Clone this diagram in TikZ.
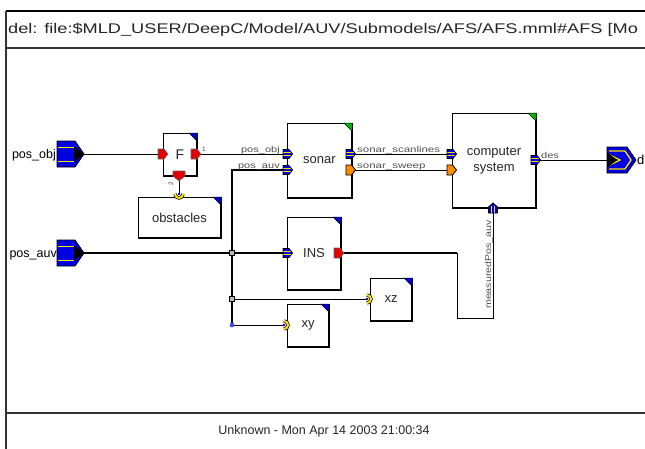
\documentclass[tikz,border=0pt]{standalone}
\usepackage{fontspec}
\setmainfont{Liberation Sans}
\usepackage{graphicx}
\usetikzlibrary{calc}
\definecolor{pblue}{RGB}{0,0,225}
\definecolor{pyellow}{RGB}{255,225,0}
\definecolor{pred}{RGB}{225,0,0}
\definecolor{porange}{RGB}{255,140,0}
\definecolor{pgreen}{RGB}{0,190,0}
\definecolor{lblgray}{RGB}{80,80,80}
\definecolor{dotblue}{RGB}{70,70,255}
\tikzset{
 blockbox/.style={draw, line width=0.8pt, fill=white, inner sep=0pt, outer sep=0pt, font=\fontsize{13}{16}\selectfont, text=black!85, align=center},
 thinw/.style={line width=0.9pt},
 thickw/.style={line width=1.9pt},
 plabel/.style={font=\fontsize{8.5}{9}\selectfont, text=lblgray, inner sep=0pt},
 junc/.style={draw, fill=gray!55, minimum size=5.5pt, inner sep=0pt, line width=0.6pt},
 framew/.style={line width=1.1pt, draw=black!80},
}
\newcommand\blkdeco[2]{%
 \draw[line width=2pt] (#1.north east) -- (#1.south east) -- (#1.south west);
 \filldraw[fill=#2, draw=black, line width=0.5pt] ($(#1.north east)+(-8,0)$) -- (#1.north east) -- ($(#1.north east)+(0,8)$) -- cycle;}
\newcommand\busR[1]{\begin{scope}[shift={(#1)}]
 \fill[pblue] (0,-4.5) -- (6,-4.5) -- (9.5,0) -- (6,4.5) -- (0,4.5) -- cycle;
 \draw[pyellow, line width=0.9pt] (0,-1.6) -- (7.5,-1.6) (0,1.6) -- (7.5,1.6);
 \draw[line width=0.8pt] (0,-4.5) -- (6,-4.5) -- (9.5,0) -- (6,4.5) -- (0,4.5) -- cycle;
 \end{scope}}
\newcommand\oranR[1]{\begin{scope}[shift={(#1)}]
 \filldraw[fill=porange, line width=0.8pt] (0,-5) -- (5.5,-5) -- (9.5,0) -- (5.5,5) -- (0,5) -- cycle;
 \end{scope}}
\newcommand\redR[1]{\begin{scope}[shift={(#1)}]
 \filldraw[fill=pred, draw=black!60, line width=0.6pt] (0,-5) -- (6,-5) -- (10,0) -- (6,5) -- (0,5) -- cycle;
 \end{scope}}
\newcommand\redD[1]{\begin{scope}[shift={(#1)}]
 \filldraw[fill=pred, draw=black!60, line width=0.6pt] (-6,0) -- (6,0) -- (6,5) -- (0,10) -- (-6,5) -- cycle;
 \end{scope}}
\newcommand\yelR[1]{\begin{scope}[shift={(#1)}]
 \draw[line width=3.4pt] (0,-4) arc[start angle=-90,end angle=90,radius=4];
 \draw[pyellow, line width=2pt] (0,-4) arc[start angle=-90,end angle=90,radius=4];
 \fill[pblue] (0,0) circle (1.4);
 \end{scope}}
\newcommand\yelU[1]{\begin{scope}[shift={(#1)}]
 \draw[line width=3.4pt] (-4,0) arc[start angle=180,end angle=0,radius=4];
 \draw[pyellow, line width=2pt] (-4,0) arc[start angle=180,end angle=0,radius=4];
 \fill[pblue] (0,0) circle (1.4);
 \end{scope}}
\newcommand\busU[1]{\begin{scope}[shift={(#1)}]
 \fill[pblue] (-4.5,0) -- (-4.5,-6) -- (0,-10) -- (4.5,-6) -- (4.5,0) -- cycle;
 \draw[pyellow, line width=0.9pt] (-1.6,0) -- (-1.6,-7.5) (1.6,0) -- (1.6,-7.5);
 \draw[line width=0.8pt] (-4.5,0) -- (-4.5,-6) -- (0,-10) -- (4.5,-6) -- (4.5,0) -- cycle;
 \end{scope}}
\newcommand\bigIn[1]{\begin{scope}[shift={(#1)}]
 \filldraw[fill=pblue, line width=0.8pt] (-27,-13) -- (-9,-13) -- (0,0) -- (-9,13) -- (-27,13) -- cycle;
 \fill[black] (-10,-8) -- (0,0) -- (-10,8) -- cycle;
 \draw[pyellow, line width=1pt] (-26.5,-7) -- (-10,-7) (-26.5,7) -- (-10,7);
 \end{scope}}
\newcommand\bigOut[1]{\begin{scope}[shift={(#1)}]
 \filldraw[fill=pblue, line width=0.8pt] (0,-13) -- (20,-13) -- (29,0) -- (20,13) -- (0,13) -- cycle;
 \draw[pyellow, line width=1.3pt] (2,-9) -- (18,-9) -- (24,0) -- (18,9) -- (2,9);
 \draw[pyellow, line width=1.3pt] (3,-5) -- (13,0) -- (3,5);
 \fill[black] (0,-8) -- (10,0) -- (0,8) -- cycle;
 \end{scope}}
\begin{document}
\begin{tikzpicture}[x=1pt,y=-1pt]
\useasboundingbox (0,0) rectangle (645,448);
\clip (0,0) rectangle (645,448);
\fill[white] (0,0) rectangle (645,448);
% frame
\coordinate (ftl) at (6,11);
\coordinate (ftr) at (646,11);
\coordinate (fbl) at (6,449);
\coordinate (s1l) at (6,48);
\coordinate (s1r) at (646,48);
\coordinate (s2l) at (6,413);
\coordinate (s2r) at (646,413);
\draw[line width=2pt] (ftl) -- (ftr);
\draw[framew] (ftl) -- (fbl);
\draw[framew] (s1l) -- (s1r);
\draw[framew] (s2l) -- (s2r);
\node[anchor=west, inner sep=0pt, text=black!85] (title) at (8,30) {\scalebox{1.30}[1]{\fontsize{14}{16}\selectfont del: file:\$MLD\_USER/DeepC/Model/AUV/Submodels/AFS/AFS.mml\#AFS [Mo}};
\node[inner sep=0pt, text=black!85] (footer) at (324,431) {\fontsize{12.5}{15}\selectfont Unknown - Mon Apr 14 2003 21:00:34};
% blocks
\node[blockbox, minimum width=34pt, minimum height=43pt, font=\fontsize{14}{16}\selectfont] (F) at (180,154.5) {F};
\node[blockbox, minimum width=83pt, minimum height=41pt] (obst) at (179.5,217.5) {obstacles};
\node[blockbox, minimum width=65pt, minimum height=75pt] (sonar) at (319.5,160.5) {sonar};
\node[blockbox, minimum width=84pt, minimum height=95pt] (cs) at (494,160.5) {computer\\system};
\node[blockbox, minimum width=54pt, minimum height=73pt] (ins) at (314,253.5) {INS};
\node[blockbox, minimum width=42pt, minimum height=43pt] (xz) at (391,299.5) {xz};
\node[blockbox, minimum width=42pt, minimum height=43pt] (xy) at (308,325.5) {xy};
\blkdeco{F}{pblue}
\blkdeco{obst}{pblue}
\blkdeco{sonar}{pgreen}
\blkdeco{cs}{pgreen}
\blkdeco{ins}{pblue}
\blkdeco{xz}{pblue}
\blkdeco{xy}{pblue}
% port coordinates
\coordinate (pobj) at (84,154);
\coordinate (pauv) at (84,253);
\coordinate (Fin) at (158,154);
\coordinate (Fout) at (191,154);
\coordinate (Fouttip) at (201,154);
\coordinate (Fbot) at (179,171);
\coordinate (Fbottip) at (179,181);
\coordinate (obin) at (179,194);
\coordinate (sin1) at (283,154);
\coordinate (sin2) at (283,170);
\coordinate (sout1) at (346,154);
\coordinate (sout1t) at (355,154);
\coordinate (sout2) at (346,170);
\coordinate (sout2t) at (355,170);
\coordinate (csin1) at (447,154);
\coordinate (csin2) at (447,170);
\coordinate (csout) at (531,160);
\coordinate (csoutt) at (540,160);
\coordinate (csbot) at (493,213);
\coordinate (dpt) at (607,160);
\coordinate (dnotch) at (617,160);
\coordinate (insin) at (283,253);
\coordinate (insout) at (334,253);
\coordinate (insoutt) at (343,253);
\coordinate (xzin) at (367,299);
\coordinate (xyin) at (284,325);
\coordinate (bend1) at (457,253);
\coordinate (bend2) at (457,318);
\coordinate (bend3) at (493,318);
% junctions
\node[junc] (j1) at (232,253) {};
\node[junc] (j2) at (232,299) {};
\node[circle, fill=dotblue, minimum size=4.5pt, inner sep=0pt] (j3) at (232,325) {};
% connectors
\draw[thinw] (pobj) -- (Fin);
\draw[thinw] (Fouttip) -- (sin1);
\draw[thinw] (Fbottip) -- (obin);
\draw[thinw] (sout1t) -- (csin1);
\draw[thinw] (sout2t) -- (csin2);
\draw[thinw] (csoutt) -- (dnotch);
\draw[thickw] (pauv) -- (j1.center) -- (insin);
\draw[thickw] (j1.center) |- (sin2);
\draw[thickw] (j1.center) -- (j2.center) -- (j3.center);
\draw[thinw] (j2.center) -- (xzin);
\draw[thinw] (j3.center) -- (xyin);
\draw[thickw] (insoutt) -- (bend1);
\draw[thinw] (bend1) -- (bend2) -- (bend3) -- (csbot);
\node[junc] at (j1) {};
\node[junc] at (j2) {};
\node[circle, fill=dotblue, minimum size=4.5pt, inner sep=0pt] at (j3) {};
% ports
\bigIn{pobj}
\bigIn{pauv}
\bigOut{dpt}
\redR{Fin}
\redR{Fout}
\redD{Fbot}
\yelU{obin}
\busR{sin1}
\busR{sin2}
\busR{sout1}
\oranR{sout2}
\busR{csin1}
\oranR{csin2}
\busR{csout}
\busU{csbot}
\busR{insin}
\redR{insout}
\yelR{xzin}
\yelR{xyin}
% labels
\node[anchor=base east, inner sep=0pt, font=\fontsize{12.5}{14}\selectfont] (lpobj) at (56,158) {pos\_obj};
\node[anchor=base east, inner sep=0pt, font=\fontsize{12.5}{14}\selectfont] (lpauv) at (57,257) {pos\_auv};
\node[anchor=base west, inner sep=0pt, font=\fontsize{13}{14}\selectfont] (ld) at (637,164) {d};
\node[plabel, anchor=base east] (l1) at (280,152.5) {\scalebox{1.3}[1]{pos\_obj}};
\node[plabel, anchor=base east] (l2) at (280,168.5) {\scalebox{1.3}[1]{pos\_auv}};
\node[plabel, anchor=base west] (l3) at (357,152.5) {\scalebox{1.35}[1]{sonar\_scanlines}};
\node[plabel, anchor=base west] (l4) at (357,168.5) {\scalebox{1.35}[1]{sonar\_sweep}};
\node[plabel, anchor=base west] (l5) at (541,158.5) {\scalebox{1.3}[1]{des}};
\node[plabel, anchor=base west, font=\fontsize{6.5}{7}\selectfont] (l6) at (202,151) {1};
\node[plabel, anchor=base west, rotate=90, font=\fontsize{6.5}{7}\selectfont] (l7) at (173,186) {2};
\node[plabel, anchor=base west, rotate=90] (l8) at (491,309) {\scalebox{1.25}[1]{measuredPos\_auv}};
\end{tikzpicture}
\end{document}
